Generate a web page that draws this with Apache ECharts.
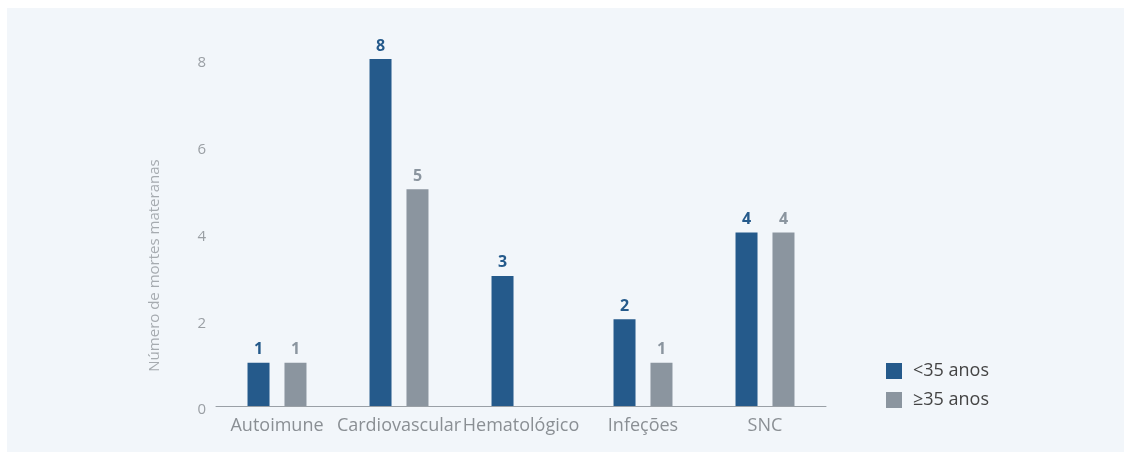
<!DOCTYPE html>
<html>
<head>
<meta charset="utf-8">
<script src="https://cdn.jsdelivr.net/npm/echarts@6/dist/echarts.min.js"></script>
<style>
html,body{margin:0;padding:0;background:#ffffff;}
#chart{width:1131px;height:452px;}
</style>
</head>
<body>
<div id="chart"></div>
<script>
const categories = ['Autoimune', 'Cardiovascular', 'Hematológico', 'Infeções', 'SNC'];
const seriesNames = ['<35 anos', '≥35 anos'];
const under35 = [1, 8, 3, 2, 4];
const over35 = [1, 5, null, 1, 4];
const yTicks = { min: 0, max: 8, interval: 2 };
const yAxisName = 'Número de mortes materanas';

const FONT = '"Open Sans", "Noto Sans", sans-serif';
const BLUE = '#255a8b';
const GRAY = '#8b959f';

const chart = echarts.init(document.getElementById('chart'), null, { renderer: 'canvas' });
chart.setOption({
  backgroundColor: 'transparent',
  animation: false,
  textStyle: { fontFamily: FONT },
  graphic: [{
    type: 'rect', left: 7, top: 8, z: -10,
    shape: { width: 1117, height: 444 },
    style: { fill: '#f2f6fa' }
  }],
  grid: { left: 216, right: 305, top: 59, bottom: 46 },
  legend: {
    orient: 'vertical',
    left: 886, top: 362,
    padding: 0,
    itemWidth: 16, itemHeight: 16, itemGap: 11,
    icon: 'rect',
    textStyle: { color: '#444', fontSize: 18, fontFamily: FONT, padding: [0, 0, 0, 6] },
    data: seriesNames
  },
  xAxis: {
    type: 'category',
    data: categories,
    axisLine: { show: true, lineStyle: { color: '#9aa0a6', width: 1 } },
    axisTick: { show: false },
    axisLabel: { color: '#8a8f94', fontSize: 18, margin: 11, fontFamily: FONT, interval: 0 }
  },
  yAxis: {
    type: 'value',
    min: yTicks.min, max: yTicks.max, interval: yTicks.interval,
    name: yAxisName,
    nameLocation: 'middle',
    nameGap: 54,
    nameTextStyle: { color: '#a6abb0', fontSize: 15, fontFamily: FONT, padding: [0, 66, 0, 0] },
    axisLine: { show: false },
    axisTick: { show: false },
    splitLine: { show: false },
    axisLabel: { color: '#9a9fa4', fontSize: 15, margin: 10, fontFamily: FONT, verticalAlign: 'top', lineHeight: 8 }
  },
  series: [
    {
      name: seriesNames[0], type: 'bar', data: under35,
      barWidth: 22, barGap: '68%',
      itemStyle: { color: BLUE },
      label: { show: true, position: 'top', distance: 5, color: BLUE, fontWeight: 'bold', fontSize: 16, fontFamily: FONT }
    },
    {
      name: seriesNames[1], type: 'bar', data: over35,
      barWidth: 22, barGap: '68%',
      itemStyle: { color: GRAY },
      label: { show: true, position: 'top', distance: 5, color: GRAY, fontWeight: 'bold', fontSize: 16, fontFamily: FONT }
    }
  ]
});
</script>
</body>
</html>
